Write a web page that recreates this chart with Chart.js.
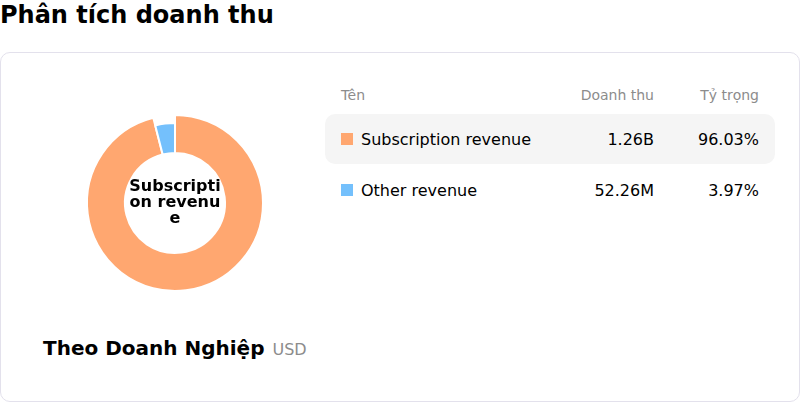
<!DOCTYPE html>
<html>
<head>
<meta charset="utf-8">
<script src="https://cdn.jsdelivr.net/npm/chart.js@4"></script>
<style>
  body { margin: 0; width: 800px; height: 402px; position: relative; background: #fff; font-family: "DejaVu Sans", sans-serif; color: #000; overflow: hidden; }
  .title { position: absolute; left: 0; top: 0; font-size: 24px; font-weight: bold; line-height: 30px; }
  .card { position: absolute; left: 0; top: 52px; width: 800px; height: 350px; box-sizing: border-box; border: 1px solid #e3e1ec; border-radius: 10px; }
  .donut { position: absolute; left: 75px; top: 103px; width: 200px; height: 200px; }
  .center-label { position: absolute; left: 127px; top: 178px; width: 96px; text-align: center; font-size: 16px; font-weight: bold; line-height: 16px; word-break: break-all; }
  .caption { position: absolute; left: 43px; top: 336px; display: flex; align-items: baseline; }
  .caption b { font-size: 20px; }
  .caption span { font-size: 16px; color: #8c8c8c; margin-left: 8px; }
  .table { position: absolute; left: 325px; top: 77px; width: 450px; }
  .row { display: flex; align-items: center; padding: 0 16px; height: 50px; margin-bottom: 1px; font-size: 16px; border-radius: 10px; }
  .row.head { height: 36px; font-size: 14px; color: #8c8c8c; }
  .row.active { background: #f5f5f5; }
  .row .name { flex: 1; display: flex; align-items: center; }
  .row .val { width: 120px; text-align: right; }
  .row .pct { width: 105px; text-align: right; }
  .sw { width: 12px; height: 12px; margin-right: 8px; }
</style>
</head>
<body>
<div class="title">Phân tích doanh thu</div>
<div class="card"></div>
<div class="donut"><canvas id="revenueChart"></canvas></div>
<div class="center-label" id="centerLabel"></div>
<div class="caption"><b>Theo Doanh Nghiệp</b><span>USD</span></div>
<div class="table" id="revenueTable"></div>

<script>
// Revenue split (millions USD)
const categories = ['Subscription revenue', 'Other revenue'];
const revenue = [1263.9, 52.26];
const colors = ['#FFA770', '#74C0FC'];
const headers = ['Tên', 'Doanh thu', 'Tỷ trọng'];
const activeIndex = 0;

const total = revenue.reduce((a, b) => a + b, 0);

function fmtMoney(m) {
  return m >= 1000 ? (m / 1000).toFixed(2) + 'B' : m.toFixed(2) + 'M';
}

// table on the right
let html = '<div class="row head"><div class="name">' + headers[0] + '</div><div class="val">' + headers[1] + '</div><div class="pct">' + headers[2] + '</div></div>';
categories.forEach((c, i) => {
  html += '<div class="row' + (i === activeIndex ? ' active' : '') + '">' +
    '<div class="name"><div class="sw" style="background:' + colors[i] + '"></div>' + c + '</div>' +
    '<div class="val">' + fmtMoney(revenue[i]) + '</div>' +
    '<div class="pct">' + (revenue[i] / total * 100).toFixed(2) + '%</div></div>';
});
document.getElementById('revenueTable').innerHTML = html;
document.getElementById('centerLabel').textContent = categories[activeIndex];

// make the selected slice stick out a bit
const expandArc = {
  id: 'expandArc',
  afterDatasetsUpdate(chart) {
    const arc = chart.getDatasetMeta(0).data[activeIndex];
    if (arc) arc.outerRadius += 8;
  }
};

const ctx = document.getElementById('revenueChart').getContext('2d');
new Chart(ctx, {
  type: 'doughnut',
  data: {
    labels: categories,
    datasets: [{
      data: revenue,
      backgroundColor: colors,
      borderColor: '#fff',
      borderWidth: 2
    }]
  },
  options: {
    responsive: true,
    maintainAspectRatio: false,
    animation: false,
    radius: 80,
    cutout: '62.5%',
    events: [],
    plugins: {
      legend: { display: false },
      tooltip: { enabled: false }
    }
  },
  plugins: [expandArc]
});
</script>
</body>
</html>
